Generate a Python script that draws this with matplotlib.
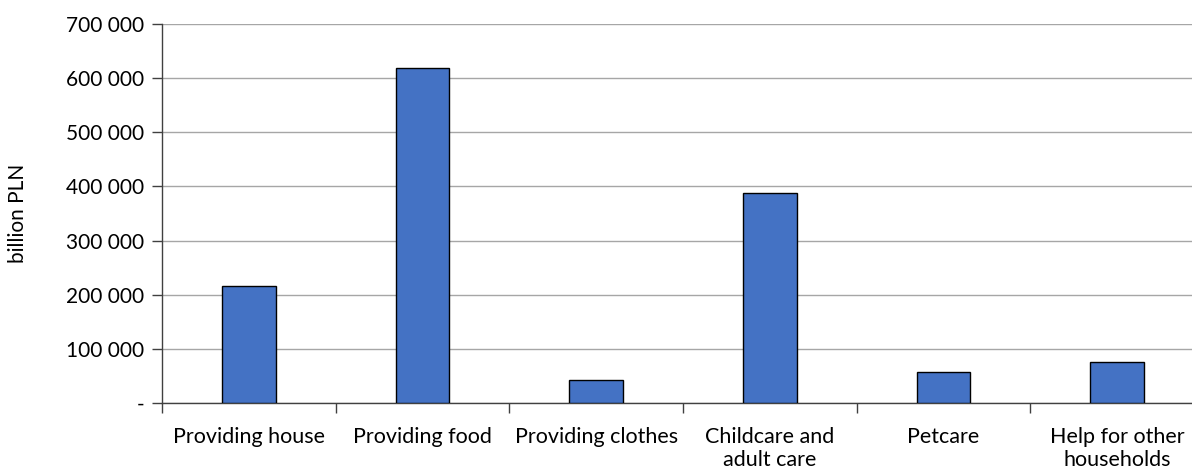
import matplotlib.pyplot as plt
from matplotlib.ticker import FuncFormatter, MultipleLocator

categories = ["Providing house", "Providing food", "Providing clothes",
              "Childcare and\nadult care", "Petcare", "Help for other\nhouseholds"]
values = [216000, 619000, 42500, 388000, 57500, 75500]

plt.rcParams['font.family'] = ['Lato', 'DejaVu Sans']

fig = plt.figure(figsize=(11.92, 4.72), dpi=100)
ax = fig.add_axes([162 / 1192, 1 - 403 / 472, (1204 - 162) / 1192, (403 - 24) / 472])

x = list(range(len(categories)))
ax.bar(x, values, width=0.31, color="#4472C4", edgecolor="black", linewidth=1, zorder=3)

ax.set_xlim(-0.5, len(categories) - 0.5)
ax.set_ylim(0, 700000)
ax.yaxis.set_major_locator(MultipleLocator(100000))


def fmt(v, pos):
    if v == 0:
        return "-"
    return f"{int(v):,}".replace(",", " ")


ax.yaxis.set_major_formatter(FuncFormatter(fmt))
ax.grid(axis="y", color="#A6A6A6", linewidth=1, zorder=0)

ax.set_xticks([i - 0.5 for i in x], minor=False)
ax.set_xticklabels([])
ax.set_xticks(x, minor=True)
ax.set_xticklabels(categories, minor=True, fontsize=15.5, linespacing=1.2)
ax.tick_params(axis="x", which="minor", length=0, pad=17)
ax.tick_params(axis="x", which="major", length=7, width=1, color="#404040")
ax.tick_params(axis="y", length=7, width=1, color="#404040", labelsize=15, pad=6)

for s in ["top", "right"]:
    ax.spines[s].set_visible(False)
for s in ["left", "bottom"]:
    ax.spines[s].set_color("#404040")
    ax.spines[s].set_linewidth(1)

ax.set_ylabel("billion PLN", fontsize=15, labelpad=27)

fig.savefig("out.png", dpi=100)
